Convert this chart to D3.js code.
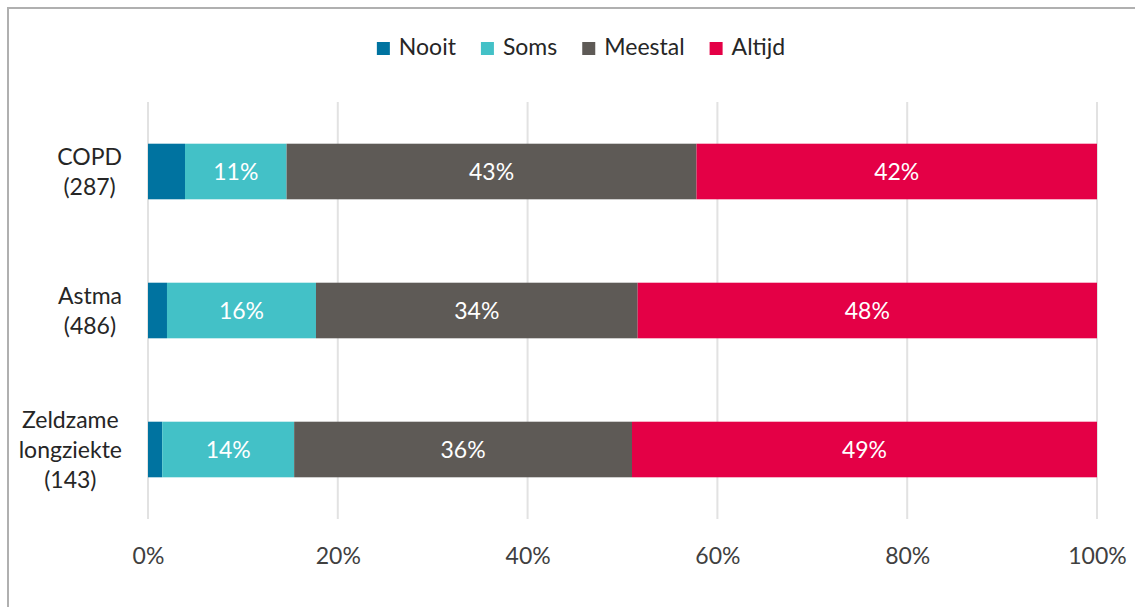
<!DOCTYPE html>
<html>
<head>
<meta charset="utf-8">
<script src="https://cdn.jsdelivr.net/npm/d3@7"></script>
<style>
  html, body { margin: 0; padding: 0; background: #fff; }
  svg { display: block; }
  text { font-family: Lato, "Open Sans", sans-serif; }
</style>
</head>
<body>
<svg id="chart" width="1135" height="607"></svg>
<script>
// Respondent groups (label lines) and answer shares in percent
const categories = [
  ["COPD", "(287)"],
  ["Astma", "(486)"],
  ["Zeldzame", "longziekte", "(143)"]
];
const seriesNames = ["Nooit", "Soms", "Meestal", "Altijd"];
const nooit   = [3.9, 2.0, 1.5];
const soms    = [10.7, 15.7, 13.9];
const meestal = [43.2, 33.9, 35.6];
const altijd  = [42.2, 48.4, 49.0];
const xTicks  = [0, 20, 40, 60, 80, 100];
const colors  = ["#0073A0", "#43C1C7", "#5E5A56", "#E40046"];
// only the larger segments carry a value label
const labelled = [false, true, true, true];

const FS = 23;
const svg = d3.select("#chart");
const W = 1135, H = 607;
const m = { left: 148, right: 1097, top: 102, bottom: 519 };

// outer frame
svg.append("rect")
  .attr("x", 8).attr("y", 8)
  .attr("width", W).attr("height", H)
  .attr("fill", "none").attr("stroke", "#B0B0B0").attr("stroke-width", 2);

const x = d3.scaleLinear().domain([0, 100]).range([m.left, m.right]);
const y = d3.scaleBand()
  .domain(categories.map((c, i) => i))
  .range([m.top, m.bottom])
  .paddingInner(0.6).paddingOuter(0.3);

// vertical gridlines
svg.append("g").selectAll("line").data(xTicks).join("line")
  .attr("x1", d => x(d)).attr("x2", d => x(d))
  .attr("y1", m.top).attr("y2", m.bottom)
  .attr("stroke", "#E2E2E2").attr("stroke-width", 2);

// x axis tick labels
const xAxis = d3.axisBottom(x).tickValues(xTicks).tickFormat(d => d + "%").tickSize(0).tickPadding(0);
const gx = svg.append("g").attr("transform", `translate(0, ${m.bottom + 29})`).call(xAxis);
gx.select(".domain").remove();
gx.selectAll("text")
  .attr("font-family", "Lato, 'Open Sans', sans-serif")
  .attr("font-size", FS).attr("fill", "#404040");

// stacked data
const rows = categories.map((c, i) => {
  const o = { idx: i };
  o.Nooit = nooit[i]; o.Soms = soms[i]; o.Meestal = meestal[i]; o.Altijd = altijd[i];
  return o;
});
const stack = d3.stack().keys(seriesNames)(rows);

const layers = svg.append("g").selectAll("g").data(stack).join("g")
  .attr("fill", (d, i) => colors[i]);

layers.selectAll("rect").data(d => d).join("rect")
  .attr("x", d => x(d[0]))
  .attr("width", d => x(d[1]) - x(d[0]))
  .attr("y", d => y(d.data.idx))
  .attr("height", y.bandwidth());

// value labels
const fmt = d3.format(".0f");
svg.append("g").selectAll("g").data(stack.filter((s, i) => labelled[i])).join("g")
  .selectAll("text").data(d => d).join("text")
  .attr("x", d => (x(d[0]) + x(d[1])) / 2)
  .attr("y", d => y(d.data.idx) + y.bandwidth() / 2)
  .attr("dy", "0.36em")
  .attr("text-anchor", "middle")
  .attr("font-size", FS)
  .attr("fill", "#FFFFFF")
  .text(d => fmt(d[1] - d[0]) + "%");

// category labels: centered lines, block right-aligned next to the axis
const lineH = 30;
const catG = svg.append("g");
categories.forEach((lines, i) => {
  const cy = y(i) + y.bandwidth() / 2;
  const t = catG.append("text")
    .attr("font-size", FS).attr("fill", "#262626")
    .attr("text-anchor", "middle");
  lines.forEach((ln, j) => {
    t.append("tspan")
      .attr("x", 0)
      .attr("y", cy + (j - (lines.length - 1) / 2) * lineH)
      .attr("dy", "0.36em")
      .text(ln);
  });
  let maxW = 0;
  t.selectAll("tspan").each(function () { maxW = Math.max(maxW, this.getComputedTextLength()); });
  t.selectAll("tspan").attr("x", 122 - maxW / 2);
});

// legend, centred above the plot
const leg = svg.append("g");
let lx = 0;
seriesNames.forEach((name, i) => {
  const g = leg.append("g");
  g.append("rect").attr("x", 0).attr("y", -13).attr("width", 13).attr("height", 13).attr("fill", colors[i]);
  const tx = g.append("text").attr("x", 22).attr("y", 0).attr("font-size", FS).attr("fill", "#262626").text(name);
  const w = 22 + tx.node().getComputedTextLength();
  g.attr("transform", `translate(${lx}, 0)`);
  lx += w + 25;
});
const legW = lx - 25;
leg.attr("transform", `translate(${581 - legW / 2}, 55)`);
</script>
</body>
</html>
